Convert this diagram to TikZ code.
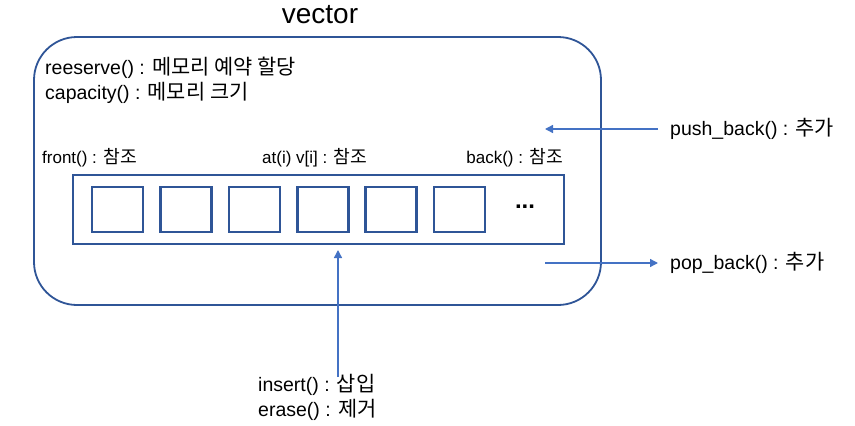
\documentclass[tikz,border=0pt]{standalone}
\usepackage{fontspec}
\setmainfont{Liberation Sans}
\newfontfamily\kr[Scale=1.07]{Noto Sans CJK KR}
\usepackage{tikz}
\usetikzlibrary{arrows.meta,positioning}
\definecolor{boxblue}{HTML}{2F5597}
\definecolor{arrowblue}{HTML}{4472C4}

\begin{document}
\begin{tikzpicture}[x=1pt, y=-1pt, every node/.style={font=\fontsize{19.5}{22}\selectfont, inner sep=0pt},
  cell/.style={draw=boxblue, line width=2.6pt, minimum width=51pt, minimum height=45pt},
  lbl/.style={anchor=west, font=\fontsize{17}{20}\selectfont},
  op/.style={-{Triangle[length=8pt,width=8pt]}, draw=arrowblue, line width=1.4pt}]
  \useasboundingbox (0,0) rectangle (855,426);
  \node[draw=boxblue, line width=1.8pt, rounded corners=43pt, minimum width=567pt, minimum height=268pt] (vec) at (317.5,171) {};
  \node[font=\fontsize{28}{30}\selectfont] (title) at (320,15) {vector};
  \node[anchor=west] (reserve) at (45,68) {reeserve() : {\kr 메모리 예약 할당}};
  \node[anchor=west] (cap) at (45,93) {capacity() : {\kr 메모리 크기}};
  \node[lbl] (front) at (42,158) {front() : {\kr 참조}};
  \node[lbl] (at) at (262,158) {at(i) v[i] : {\kr 참조}};
  \node[lbl, anchor=east] (back) at (563,158) {back() : {\kr 참조}};
  \node[draw=boxblue, line width=1.8pt, minimum width=491pt, minimum height=69pt] (arr) at (318.5,209.5) {};
  \foreach \i in {1,...,6}
    \node[cell] (c\i) at ({117.5+68.4*(\i-1)},209.5) {};
  \node[font=\bfseries\fontsize{24}{24}\selectfont] (dots) at (525,207) {...};
  \node[anchor=west] (push) at (670,129) {push\_back() : {\kr 추가}};
  \node[anchor=west] (pop) at (670,263) {pop\_back() : {\kr 추가}};
  \node[anchor=west] (insert) at (258,385) {insert() : {\kr 삽입}};
  \node[anchor=west] (erase) at (258,410) {erase() : {\kr 제거}};
  \coordinate (pushend) at (545,129);
  \coordinate (popstart) at (545,263);
  \coordinate (insstart) at (338,377);
  \coordinate (insend) at (338,250);
  \draw[op] ([xshift=-12pt]push.west) -- (pushend);
  \draw[op] (popstart) -- ([xshift=-12pt]pop.west);
  \draw[op] (insstart) -- (insend);
\end{tikzpicture}
\end{document}
